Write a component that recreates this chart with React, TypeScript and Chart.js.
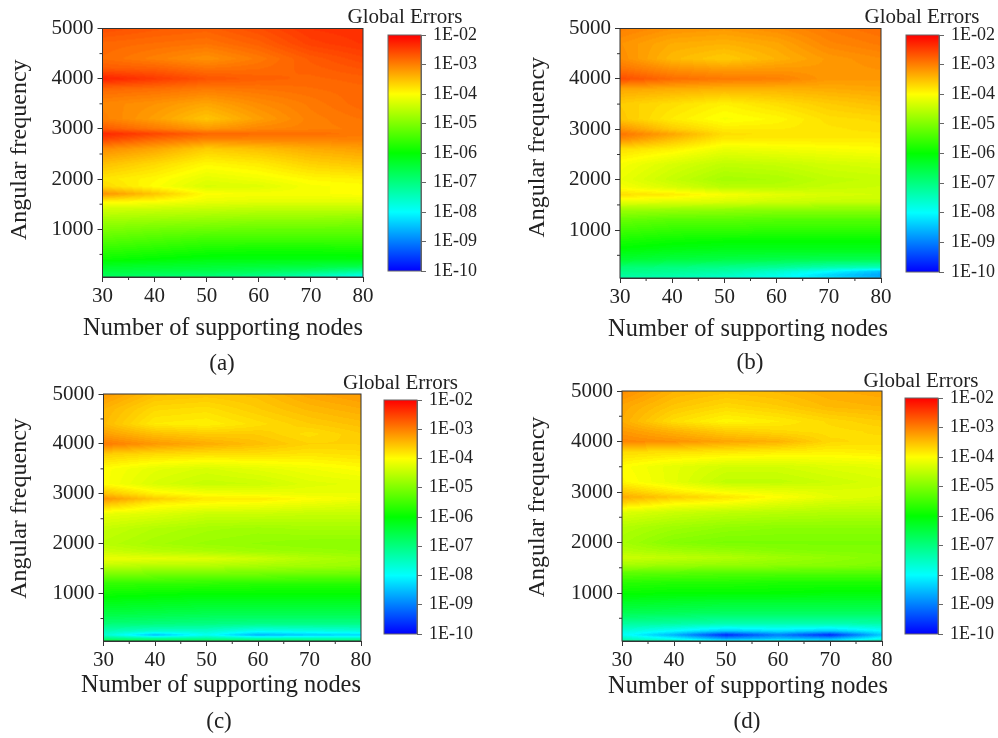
import React, { useEffect, useRef } from "react";
import { Chart, registerables } from "chart.js";

Chart.register(...registerables);

const FONT = "'Liberation Serif', 'Times New Roman', serif";
const INK = "#222";

const NODES = [30, 40, 50, 60, 70, 80];
const FREQS = [5000, 4700, 4400, 4200, 4000, 3800, 3500, 3200, 3000, 2900, 2800, 2600, 2300, 2000, 1850, 1700, 1550, 1400, 1200, 1000, 800, 600, 400, 250, 170, 100, 50];
const MINOR_X = [35, 45, 55, 65, 75];
const MINOR_Y = [500, 1500, 2500, 3500, 4500];
const MAJOR_Y = [1000, 2000, 3000, 4000, 5000];
const BAR_TICKS = [-10, -9, -8, -7, -6, -5, -4, -3, -2];
const COLOR_STOPS: [number, number, number, number][] = [
  [-10, 0, 0, 255],
  [-8, 0, 255, 255],
  [-6, 0, 255, 0],
  [-4, 255, 255, 0],
  [-2, 255, 0, 0],
];

// log10(global error), rows follow FREQS, columns follow NODES
const errA = [
  [-2.6, -2.7, -2.75, -2.6, -2.4, -2.35],
  [-2.8, -2.85, -2.9, -2.75, -2.5, -2.4],
  [-2.85, -3.0, -3.15, -2.95, -2.7, -2.55],
  [-2.7, -2.75, -2.9, -2.85, -2.75, -2.65],
  [-2.25, -2.45, -2.65, -2.75, -2.8, -2.75],
  [-2.8, -2.85, -2.95, -2.9, -2.85, -2.8],
  [-3.05, -3.15, -3.3, -3.1, -2.95, -2.8],
  [-3.0, -3.25, -3.55, -3.25, -3.0, -2.9],
  [-2.7, -2.95, -3.2, -3.05, -3.0, -2.95],
  [-2.3, -2.55, -2.8, -2.85, -2.85, -2.95],
  [-2.5, -2.8, -3.0, -3.0, -3.0, -3.0],
  [-3.1, -3.3, -3.6, -3.5, -3.35, -3.25],
  [-3.5, -3.7, -3.95, -3.85, -3.65, -3.55],
  [-3.8, -3.95, -4.2, -4.1, -3.95, -3.9],
  [-3.7, -4.0, -4.3, -4.25, -4.05, -4.0],
  [-3.15, -3.55, -4.0, -4.05, -4.05, -4.0],
  [-3.9, -4.0, -4.15, -4.2, -4.2, -4.2],
  [-4.35, -4.4, -4.45, -4.5, -4.5, -4.5],
  [-4.7, -4.75, -4.8, -4.85, -4.85, -4.9],
  [-5.0, -5.1, -5.15, -5.2, -5.2, -5.2],
  [-5.3, -5.4, -5.5, -5.5, -5.5, -5.5],
  [-5.6, -5.7, -5.8, -5.85, -5.85, -5.8],
  [-5.9, -6.0, -6.1, -6.1, -6.1, -6.1],
  [-6.3, -6.35, -6.4, -6.45, -6.5, -6.6],
  [-6.45, -6.5, -6.55, -6.65, -6.8, -7.1],
  [-6.6, -6.7, -6.8, -6.9, -7.2, -7.6],
  [-6.7, -6.8, -6.9, -7.1, -7.4, -7.9],
];
const errB = [
  [-3.0, -3.15, -3.2, -3.1, -2.95, -2.85],
  [-3.15, -3.35, -3.4, -3.3, -3.05, -2.95],
  [-3.1, -3.45, -3.6, -3.4, -3.2, -3.1],
  [-2.9, -3.15, -3.25, -3.2, -3.2, -3.15],
  [-2.6, -2.85, -2.95, -3.0, -3.2, -3.2],
  [-3.3, -3.35, -3.4, -3.4, -3.35, -3.3],
  [-3.6, -3.75, -3.9, -3.75, -3.6, -3.5],
  [-3.55, -3.85, -4.05, -3.95, -3.75, -3.7],
  [-3.15, -3.6, -3.85, -3.85, -3.8, -3.75],
  [-2.9, -3.3, -3.75, -3.8, -3.8, -3.8],
  [-3.1, -3.5, -3.85, -3.85, -3.85, -3.85],
  [-3.75, -3.9, -4.15, -4.1, -4.05, -4.0],
  [-4.05, -4.3, -4.5, -4.45, -4.35, -4.3],
  [-4.15, -4.45, -4.7, -4.65, -4.5, -4.45],
  [-4.05, -4.3, -4.55, -4.55, -4.45, -4.4],
  [-3.75, -3.85, -4.05, -4.2, -4.3, -4.35],
  [-4.2, -4.25, -4.3, -4.4, -4.45, -4.45],
  [-4.75, -4.8, -4.85, -4.9, -4.9, -4.9],
  [-5.2, -5.3, -5.3, -5.35, -5.35, -5.35],
  [-5.5, -5.6, -5.6, -5.65, -5.65, -5.65],
  [-5.8, -5.9, -5.95, -5.95, -5.95, -5.95],
  [-6.05, -6.15, -6.2, -6.2, -6.2, -6.2],
  [-6.4, -6.5, -6.55, -6.6, -6.65, -6.65],
  [-6.9, -7.0, -7.1, -7.2, -7.4, -7.5],
  [-7.05, -7.15, -7.3, -7.6, -8.0, -8.5],
  [-7.2, -7.3, -7.5, -7.8, -8.3, -8.7],
  [-7.3, -7.4, -7.6, -7.9, -8.2, -8.6],
];
const errC = [
  [-3.2, -3.5, -3.55, -3.5, -3.3, -3.2],
  [-3.4, -3.7, -3.75, -3.6, -3.45, -3.35],
  [-3.45, -3.85, -3.9, -3.75, -3.6, -3.5],
  [-3.25, -3.5, -3.6, -3.6, -3.75, -3.6],
  [-2.95, -3.2, -3.35, -3.5, -3.65, -3.65],
  [-3.6, -3.7, -3.75, -3.75, -3.8, -3.75],
  [-4.0, -4.2, -4.3, -4.2, -4.1, -4.0],
  [-4.0, -4.3, -4.45, -4.4, -4.25, -4.2],
  [-3.5, -3.9, -4.05, -4.1, -4.15, -4.15],
  [-3.15, -3.6, -3.85, -3.85, -4.0, -4.1],
  [-3.5, -3.9, -4.0, -4.05, -4.15, -4.25],
  [-4.15, -4.25, -4.4, -4.4, -4.45, -4.45],
  [-4.45, -4.6, -4.7, -4.75, -4.7, -4.7],
  [-4.55, -4.7, -4.8, -4.85, -4.9, -4.9],
  [-4.4, -4.55, -4.65, -4.75, -4.8, -4.85],
  [-4.15, -4.2, -4.25, -4.4, -4.6, -4.7],
  [-4.5, -4.6, -4.6, -4.7, -4.75, -4.8],
  [-5.0, -5.05, -5.1, -5.1, -5.15, -5.15],
  [-5.6, -5.65, -5.65, -5.7, -5.7, -5.7],
  [-5.9, -5.95, -6.0, -6.0, -6.0, -6.0],
  [-6.2, -6.25, -6.3, -6.3, -6.3, -6.3],
  [-6.5, -6.55, -6.6, -6.6, -6.6, -6.6],
  [-6.9, -6.95, -7.0, -7.05, -7.05, -7.05],
  [-7.4, -7.6, -7.6, -7.9, -7.8, -7.7],
  [-7.6, -8.5, -7.9, -8.6, -8.4, -8.3],
  [-7.0, -7.2, -7.2, -7.4, -7.4, -7.4],
  [-6.5, -6.6, -6.6, -6.7, -6.8, -6.8],
];
const errD = [
  [-3.1, -3.4, -3.5, -3.45, -3.35, -3.3],
  [-3.3, -3.55, -3.7, -3.6, -3.45, -3.4],
  [-3.35, -3.75, -3.95, -3.85, -3.7, -3.6],
  [-3.2, -3.4, -3.6, -3.7, -3.75, -3.7],
  [-3.05, -3.15, -3.3, -3.4, -3.7, -3.75],
  [-3.7, -3.75, -3.8, -3.85, -3.9, -3.85],
  [-4.0, -4.2, -4.35, -4.35, -4.25, -4.2],
  [-3.95, -4.2, -4.5, -4.5, -4.4, -4.3],
  [-3.55, -3.85, -4.05, -4.15, -4.25, -4.25],
  [-3.35, -3.6, -3.8, -4.0, -4.2, -4.3],
  [-3.6, -3.9, -4.0, -4.2, -4.35, -4.4],
  [-4.25, -4.4, -4.5, -4.55, -4.6, -4.6],
  [-4.6, -4.75, -4.85, -4.9, -4.9, -4.9],
  [-4.7, -4.95, -5.05, -5.05, -5.05, -5.05],
  [-4.6, -4.75, -4.85, -4.95, -5.0, -5.0],
  [-4.4, -4.5, -4.6, -4.75, -4.85, -4.95],
  [-4.7, -4.8, -4.85, -4.9, -4.95, -5.0],
  [-5.25, -5.3, -5.35, -5.35, -5.35, -5.35],
  [-5.7, -5.75, -5.75, -5.8, -5.8, -5.8],
  [-5.95, -6.0, -6.0, -6.0, -6.05, -6.05],
  [-6.3, -6.35, -6.4, -6.4, -6.4, -6.4],
  [-6.65, -6.7, -6.75, -6.75, -6.75, -6.75],
  [-7.2, -7.25, -7.35, -7.35, -7.35, -7.3],
  [-7.7, -8.0, -8.4, -8.2, -8.4, -8.0],
  [-7.9, -8.6, -9.7, -9.0, -9.7, -8.4],
  [-7.5, -8.0, -8.8, -8.5, -8.7, -7.9],
  [-7.2, -7.5, -8.0, -7.8, -8.1, -7.4],
];

type Panel = {
  caption: string; grid: number[][];
  ox: number; oy: number; w: number; h: number;
  plot: [number, number, number, number];
  bar: [number, number, number, number];
  yTitleX: number; yShift: number;
  xLabel: [number, number]; cap: [number, number]; glob: [number, number];
};

const PANELS: Panel[] = [
  { caption: "(a)", grid: errA, ox: 0, oy: 0, w: 385, h: 380, plot: [102.5, 363, 28.5, 277], bar: [388, 421, 35, 271], yTitleX: 20, yShift: 1, xLabel: [223, 329], cap: [222, 364], glob: [405, 17] },
  { caption: "(b)", grid: errB, ox: 505, oy: 0, w: 400, h: 380, plot: [620, 881, 28.5, 278], bar: [906, 939, 35, 272], yTitleX: 538, yShift: 2, xLabel: [748, 330], cap: [750, 363], glob: [922, 17] },
  { caption: "(c)", grid: errC, ox: 0, oy: 370, w: 382, h: 368, plot: [103.5, 361, 394, 641], bar: [383.5, 416.5, 400, 634], yTitleX: 20, yShift: 3, xLabel: [221, 686], cap: [219, 722], glob: [400, 383] },
  { caption: "(d)", grid: errD, ox: 505, oy: 370, w: 400, h: 368, plot: [622, 882, 391, 641], bar: [905, 938, 398, 634], yTitleX: 538, yShift: 3, xLabel: [748, 687], cap: [747, 722], glob: [921, 381] },
];

function colorOf(v: number): [number, number, number] {
  const s = COLOR_STOPS;
  if (v <= s[0][0]) return [s[0][1], s[0][2], s[0][3]];
  for (let i = 1; i < s.length; i++) {
    if (v <= s[i][0]) {
      const t = (v - s[i - 1][0]) / (s[i][0] - s[i - 1][0]);
      return [
        s[i - 1][1] + t * (s[i][1] - s[i - 1][1]),
        s[i - 1][2] + t * (s[i][2] - s[i - 1][2]),
        s[i - 1][3] + t * (s[i][3] - s[i - 1][3]),
      ];
    }
  }
  const l = s[s.length - 1];
  return [l[1], l[2], l[3]];
}

// Paints the dataset's cells as a filled contour, through the chart's own scales.
const contourPlugin = {
  id: "contourFill",
  beforeDatasetsDraw(chart: any) {
    const pts = chart.data.datasets[0].data as { x: number; y: number; v: number }[];
    const cols = NODES.length;
    const area = chart.chartArea;
    const sx = chart.scales.x, sy = chart.scales.y;
    const w = Math.ceil(area.right - area.left), h = Math.ceil(area.bottom - area.top);
    const off = document.createElement("canvas");
    off.width = w; off.height = h;
    const octx = off.getContext("2d")!;
    const img = octx.createImageData(w, h);
    for (let py = 0; py < h; py++) {
      const fy = sy.getValueForPixel(area.top + py + 0.5);
      let r = 0;
      while (r < FREQS.length - 2 && fy < FREQS[r + 1]) r++;
      const ty = Math.min(1, Math.max(0, (FREQS[r] - fy) / (FREQS[r] - FREQS[r + 1])));
      for (let px = 0; px < w; px++) {
        const fx = sx.getValueForPixel(area.left + px + 0.5);
        let c = 0;
        while (c < cols - 2 && fx > NODES[c + 1]) c++;
        const tx = Math.min(1, Math.max(0, (fx - NODES[c]) / (NODES[c + 1] - NODES[c])));
        const a = pts[r * cols + c].v, b = pts[r * cols + c + 1].v;
        const d = pts[(r + 1) * cols + c].v, e = pts[(r + 1) * cols + c + 1].v;
        const raw = (a + (b - a) * tx) * (1 - ty) + (d + (e - d) * tx) * ty;
        const [R, G, B] = colorOf(Math.round(raw * 16) / 16);
        const i = (py * w + px) * 4;
        img.data[i] = R; img.data[i + 1] = G; img.data[i + 2] = B; img.data[i + 3] = 255;
      }
    }
    octx.putImageData(img, 0, 0);
    chart.ctx.drawImage(off, area.left, area.top, area.right - area.left, area.bottom - area.top);
  },
};

function panelPlugin(p: Panel) {
  return {
    id: "panelDecor",
    afterDraw(chart: any) {
      const { ctx, chartArea: a, scales } = chart;
      ctx.save();
      ctx.strokeStyle = "#333";
      ctx.lineWidth = 1;
      ctx.strokeRect(a.left, a.top, a.right - a.left, a.bottom - a.top);
      ctx.beginPath();
      MINOR_X.forEach((v) => {
        const x = scales.x.getPixelForValue(v);
        ctx.moveTo(x, a.bottom); ctx.lineTo(x, a.bottom + 3);
      });
      MINOR_Y.forEach((v) => {
        const y = scales.y.getPixelForValue(v);
        ctx.moveTo(a.left, y); ctx.lineTo(a.left - 3, y);
      });
      ctx.stroke();
      ctx.fillStyle = INK;
      ctx.textAlign = "center";
      ctx.textBaseline = "middle";
      ctx.font = `24.4px ${FONT}`;
      ctx.fillText("Number of supporting nodes", p.xLabel[0] - p.ox, p.xLabel[1] - p.oy);
      ctx.font = `23px ${FONT}`;
      ctx.fillText(p.caption, p.cap[0] - p.ox, p.cap[1] - p.oy);
      ctx.restore();
    },
  };
}

function makeHeat(canvas: HTMLCanvasElement, p: Panel) {
  const [l, r, t, b] = p.plot;
  const data: { x: number; y: number; v: number }[] = [];
  FREQS.forEach((y, i) => NODES.forEach((x, j) => data.push({ x, y, v: p.grid[i][j] })));
  return new Chart(canvas, {
    type: "scatter",
    data: { datasets: [{ label: "log10 global error " + p.caption, data, pointRadius: 0, pointHoverRadius: 0 } as any] },
    plugins: [contourPlugin, panelPlugin(p)],
    options: {
      animation: false, responsive: false, devicePixelRatio: 1,
      events: [],
      layout: { padding: { left: 0, top: t - p.oy, right: p.w - (r - p.ox), bottom: 0 } },
      plugins: { legend: { display: false }, tooltip: { enabled: false } },
      scales: {
        x: {
          type: "linear", min: 30, max: 80,
          afterFit: (s: any) => { s.height = p.h - (b - p.oy); },
          ticks: { stepSize: 10, padding: 2, color: INK, font: { family: FONT, size: 21 }, maxRotation: 0 },
          grid: { drawOnChartArea: false, tickLength: 5, color: "#333" },
          border: { color: "#333" },
        },
        y: {
          type: "linear", min: 50, max: 5000,
          afterBuildTicks: (s: any) => { s.ticks = MAJOR_Y.map((value) => ({ value })); },
          afterFit: (s: any) => { s.width = l - p.ox; },
          ticks: { padding: 4, color: INK, font: { family: FONT, size: 21 }, callback: (v: number) => String(v) },
          grid: { drawOnChartArea: false, tickLength: 5, color: "#333" },
          border: { color: "#333" },
          title: {
            display: true,
            text: " ".repeat(p.yShift) + "Angular frequency",
            color: INK,
            font: { family: FONT, size: 24 },
            padding: { top: p.yTitleX - p.ox - 14.4, bottom: 0 },
          },
        },
      },
    } as any,
  });
}

const BAR_LEFT_ROOM = 50;
const BAR_RIGHT_ROOM = 62;
const BAR_BOTTOM_ROOM = 20;

function barBox(p: Panel) {
  const [l, r, , b] = p.bar;
  return { left: l - BAR_LEFT_ROOM, top: p.oy, width: r + BAR_RIGHT_ROOM - (l - BAR_LEFT_ROOM), height: b + BAR_BOTTOM_ROOM - p.oy };
}

function makeBar(canvas: HTMLCanvasElement, p: Panel) {
  const [l, r, t, b] = p.bar;
  const box = barBox(p);
  const ox = box.left, oy = box.top;
  const g = canvas.getContext("2d")!.createLinearGradient(0, b - oy, 0, t - oy);
  COLOR_STOPS.forEach((s) => g.addColorStop((s[0] + 10) / 8, `rgb(${s[1]},${s[2]},${s[3]})`));
  return new Chart(canvas, {
    type: "bar",
    data: {
      labels: ["Global Errors"],
      datasets: [{ label: "Global Errors", data: [[-10, -2]], backgroundColor: g, borderWidth: 0, barPercentage: 1, categoryPercentage: 1 } as any],
    },
    plugins: [{
      id: "barFrame",
      afterDraw(chart: any) {
        const { ctx, chartArea: a } = chart;
        ctx.save();
        ctx.strokeStyle = "#666";
        ctx.lineWidth = 1;
        ctx.strokeRect(a.left, a.top, a.right - a.left, a.bottom - a.top);
        ctx.fillStyle = INK;
        ctx.font = `21px ${FONT}`;
        ctx.textAlign = "center";
        ctx.textBaseline = "middle";
        ctx.fillText("Global Errors", p.glob[0] - ox, p.glob[1] - oy);
        ctx.restore();
      },
    }],
    options: {
      animation: false, responsive: false, devicePixelRatio: 1,
      events: [],
      layout: { padding: { left: l - ox, top: t - oy, right: 0, bottom: box.height - (b - oy) } },
      plugins: { legend: { display: false }, tooltip: { enabled: false } },
      scales: {
        x: { display: false, type: "category", offset: true },
        y: {
          position: "right", type: "linear", min: -10, max: -2,
          afterBuildTicks: (s: any) => { s.ticks = BAR_TICKS.map((value) => ({ value })); },
          afterFit: (s: any) => { s.width = box.width - (r - ox); },
          ticks: {
            padding: 7, color: INK, font: { family: FONT, size: 18 },
            callback: (v: number) => `1E-${String(Math.abs(v)).padStart(2, "0")}`,
          },
          grid: { drawOnChartArea: false, tickLength: 5, color: "#666" },
          border: { color: "#666" },
        },
      },
    } as any,
  });
}

export default function App() {
  const heatRefs = useRef<(HTMLCanvasElement | null)[]>([]);
  const barRefs = useRef<(HTMLCanvasElement | null)[]>([]);
  useEffect(() => {
    const charts = PANELS.flatMap((p, i) => [
      makeHeat(heatRefs.current[i]!, p),
      makeBar(barRefs.current[i]!, p),
    ]);
    return () => charts.forEach((c) => c.destroy());
  }, []);
  const blur = "blur(0.5px)";
  return (
    <div style={{ position: "absolute", left: 0, top: 0, width: 998, height: 738, overflow: "hidden" }}>
      {PANELS.map((p, i) => {
        const bb = barBox(p);
        return (
          <React.Fragment key={p.caption}>
            <canvas
              ref={(el) => { heatRefs.current[i] = el; }}
              width={p.w} height={p.h}
              style={{ position: "absolute", left: p.ox, top: p.oy, width: p.w, height: p.h, filter: blur }}
            />
            <canvas
              ref={(el) => { barRefs.current[i] = el; }}
              width={bb.width} height={bb.height}
              style={{ position: "absolute", left: bb.left, top: bb.top, width: bb.width, height: bb.height, filter: blur }}
            />
          </React.Fragment>
        );
      })}
    </div>
  );
}
